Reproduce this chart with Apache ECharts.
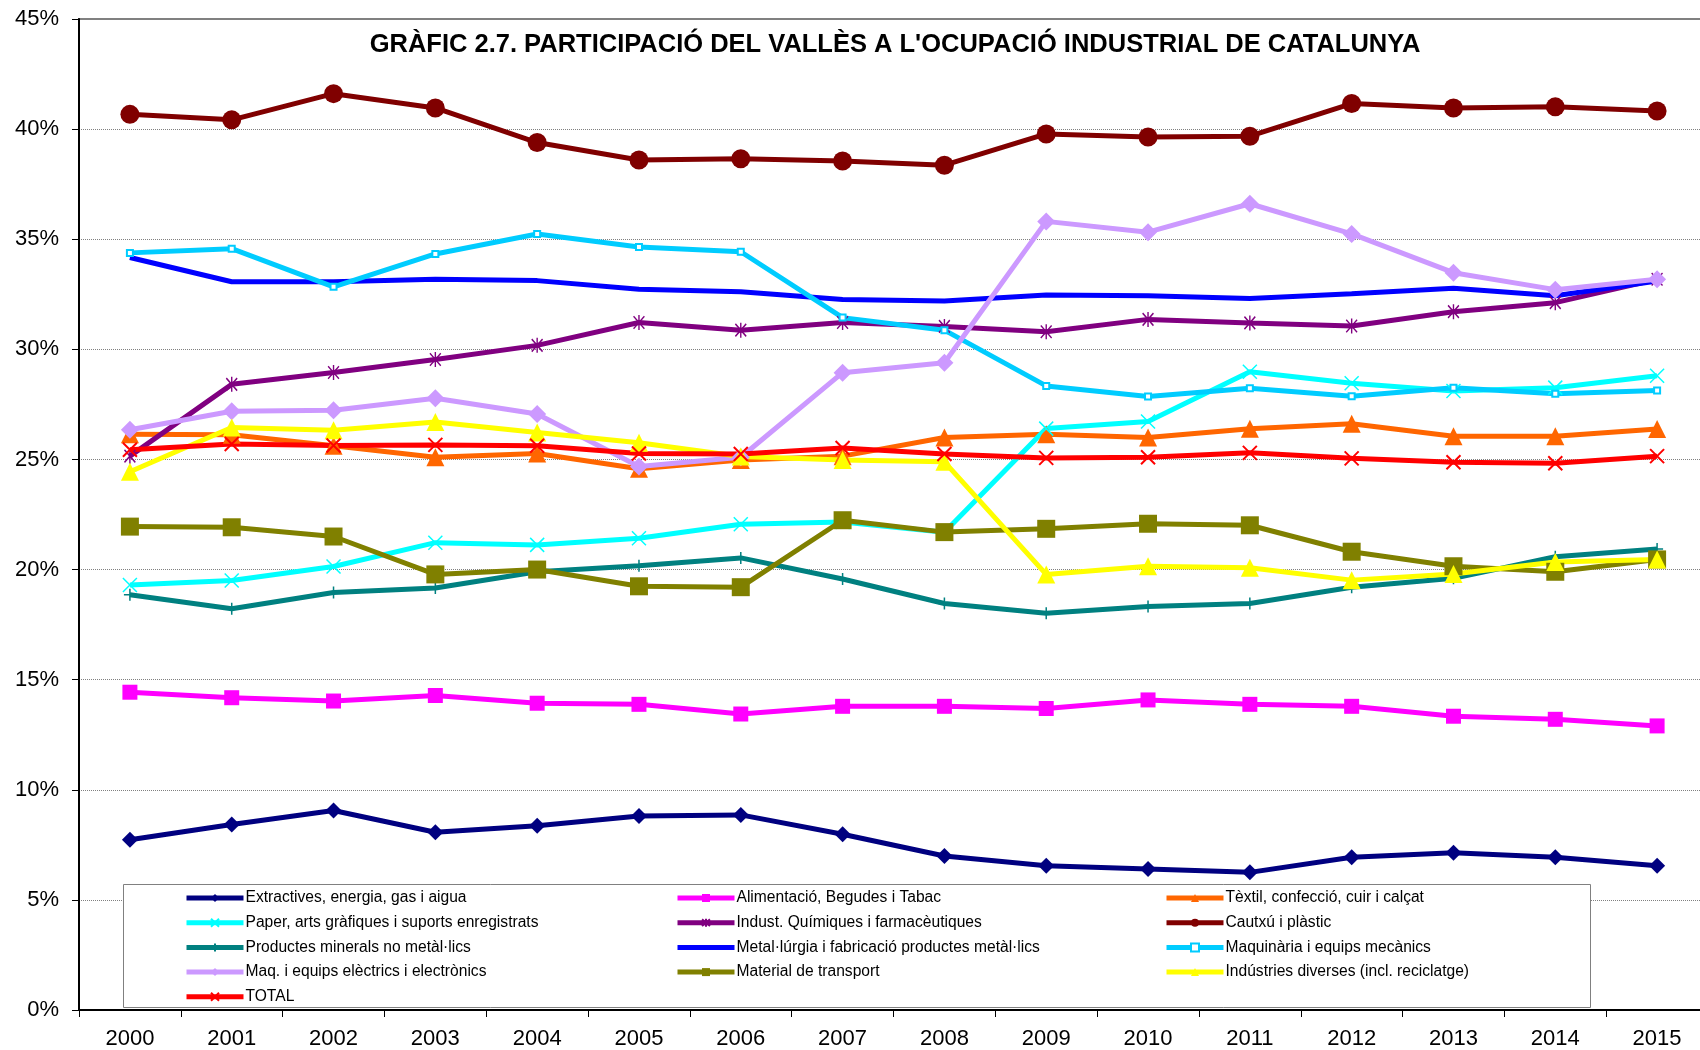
<!DOCTYPE html>
<html>
<head>
<meta charset="utf-8">
<script src="https://cdn.jsdelivr.net/npm/echarts@6/dist/echarts.min.js"></script>
<style>
  html, body { margin: 0; padding: 0; overflow: hidden; background: #fff; }
  #chart { width: 1710px; height: 1050px; }
</style>
</head>
<body>
<div id="chart"></div>
<script>
// years on the x axis
const years = ['2000', '2001', '2002', '2003', '2004', '2005', '2006', '2007',
    '2008', '2009', '2010', '2011', '2012', '2013', '2014', '2015'];

// share of industrial employment (%)
const extractives = [7.73, 8.42, 9.06, 8.07, 8.37, 8.81, 8.86, 7.98, 6.99, 6.55, 6.40, 6.25, 6.94, 7.14, 6.94, 6.55];
const alimentacio = [14.43, 14.18, 14.03, 14.28, 13.93, 13.88, 13.44, 13.79, 13.79, 13.69, 14.08, 13.88, 13.79, 13.34, 13.20, 12.90];
const textil = [26.14, 26.12, 25.62, 25.10, 25.27, 24.58, 24.97, 25.15, 26.0, 26.14, 26.0, 26.39, 26.62, 26.05, 26.05, 26.38];
const paper = [19.30, 19.50, 20.14, 21.22, 21.12, 21.42, 22.06, 22.16, 21.69, 26.40, 26.72, 28.98, 28.46, 28.11, 28.26, 28.80];
const quimiques = [25.15, 28.41, 28.95, 29.54, 30.18, 31.22, 30.87, 31.22, 31.04, 30.80, 31.36, 31.20, 31.06, 31.71, 32.12, 33.18];
const cautxu = [40.67, 40.42, 41.61, 40.96, 39.39, 38.60, 38.65, 38.55, 38.36, 39.78, 39.64, 39.68, 41.16, 40.96, 41.01, 40.82];
const minerals = [18.86, 18.22, 18.96, 19.16, 19.90, 20.17, 20.53, 19.57, 18.46, 18.02, 18.32, 18.46, 19.20, 19.60, 20.58, 20.93];
const metallurgia = [34.17, 33.07, 33.07, 33.18, 33.12, 32.73, 32.62, 32.26, 32.20, 32.47, 32.43, 32.31, 32.52, 32.77, 32.43, 33.10];
const maquinaria = [34.38, 34.57, 32.84, 34.33, 35.24, 34.65, 34.43, 31.44, 30.87, 28.34, 27.86, 28.23, 27.87, 28.26, 27.98, 28.13];
const electrics = [26.35, 27.19, 27.23, 27.78, 27.06, 24.68, 25.10, 28.94, 29.39, 35.81, 35.32, 36.61, 35.24, 33.48, 32.71, 33.18];
const transport = [21.95, 21.92, 21.50, 19.78, 20.0, 19.24, 19.20, 22.24, 21.70, 21.85, 22.08, 22.01, 20.81, 20.15, 19.90, 20.46];
const diverses = [24.44, 26.45, 26.33, 26.70, 26.22, 25.76, 25.13, 24.98, 24.89, 19.78, 20.15, 20.08, 19.52, 19.80, 20.34, 20.46];
const total = [25.44, 25.70, 25.63, 25.66, 25.62, 25.27, 25.25, 25.52, 25.25, 25.07, 25.10, 25.30, 25.05, 24.87, 24.83, 25.15];

const yTicks = { min: 0, max: 45, step: 5 };

const FONT = '"Liberation Sans", Arial, sans-serif';

// marker shapes drawn as strokes
const X_MARK = 'path://M0 0 L10 10 M10 0 L0 10';
const STAR_MARK = 'path://M0 1 L10 11 M10 1 L0 11 M5 0 L5 12';
const PLUS_MARK = 'path://M5 0 L5 10 M0 5 L10 5';
// plain thick bar, for the one series without markers
const BAR_ICON = 'path://M0 0 H57 V5 H0 Z';

const makeSeries = (name, data, color, symbol, size, stroke) => ({
    name,
    type: 'line',
    data,
    symbol,
    symbolSize: size,
    symbolKeepAspect: true,
    showAllSymbol: true,
    lineStyle: { color, width: 5 },
    itemStyle: stroke
        ? { color, borderColor: color, borderWidth: stroke }
        : { color },
    emphasis: { disabled: true },
});

const series = [
    makeSeries('Extractives, energia, gas i aigua', extractives, '#000080', 'diamond', 16),
    makeSeries('Alimentació, Begudes i Tabac', alimentacio, '#FF00FF', 'rect', 15),
    makeSeries('Tèxtil, confecció, cuir i calçat', textil, '#FF6600', 'triangle', 18),
    makeSeries('Paper, arts gràfiques i suports enregistrats', paper, '#00FFFF', X_MARK, 14, 1.5),
    makeSeries('Indust. Químiques i farmacèutiques', quimiques, '#800080', STAR_MARK, [13, 15], 1.5),
    makeSeries('Cautxú i plàstic', cautxu, '#800000', 'circle', 19),
    makeSeries('Productes minerals no metàl·lics', minerals, '#008080', PLUS_MARK, 12, 1.5),
    makeSeries('Metal·lúrgia i fabricació productes metàl·lics', metallurgia, '#0000FF', 'none', 0),
    makeSeries('Maquinària i equips mecànics', maquinaria, '#00CCFF', 'emptyRect', 6, 1.5),
    makeSeries('Maq. i equips elèctrics i electrònics', electrics, '#CC99FF', 'diamond', 18),
    makeSeries('Material de transport', transport, '#808000', 'rect', 18),
    makeSeries('Indústries diverses (incl. reciclatge)', diverses, '#FFFF00', 'triangle', 18),
    makeSeries('TOTAL', total, '#FF0000', X_MARK, 14, 2),
];

const names = series.map(s => s.name);
// legend is laid out row by row in three columns
const legendColumn = (col, left) => ({
    orient: 'vertical',
    left,
    top: 890,
    padding: 0,
    itemWidth: 57,
    itemHeight: 10,
    itemGap: 8.7,
    z: 10,
    selectedMode: false,
    lineStyle: { width: 5 },
    textStyle: { fontFamily: FONT, fontSize: 15.6, color: '#000', lineHeight: 16, padding: [0, 0, 0, -3] },
    data: names
        .filter((n, i) => i % 3 === col)
        .map(n => (n.startsWith('Metal') ? { name: n, icon: BAR_ICON } : n)),
});

const chart = echarts.init(document.getElementById('chart'), null, { renderer: 'canvas' });

const option = {
    animation: false,
    backgroundColor: '#fff',
    grid: {
        left: 79,
        right: 2,
        top: 19,
        bottom: 40,
        show: true,
        borderColor: '#808080',
        borderWidth: 2,
    },
    xAxis: {
        type: 'category',
        data: years,
        boundaryGap: true,
        axisLine: { lineStyle: { color: '#000', width: 2 } },
        axisTick: { show: true, length: 7, lineStyle: { color: '#000', width: 1 } },
        axisLabel: { fontFamily: FONT, fontSize: 22, color: '#000', margin: 18 },
        splitLine: { show: false },
    },
    yAxis: {
        type: 'value',
        min: yTicks.min,
        max: yTicks.max,
        interval: yTicks.step,
        axisLine: { show: true, lineStyle: { color: '#000', width: 2 } },
        axisTick: { show: true, length: 7, lineStyle: { color: '#000', width: 1 } },
        axisLabel: { fontFamily: FONT, fontSize: 22, color: '#000', margin: 20, formatter: '{value}%' },
        splitLine: { lineStyle: { color: '#808080', width: 1, type: [1, 1] } },
    },
    legend: [legendColumn(0, 184), legendColumn(1, 675), legendColumn(2, 1164)],
    graphic: [
        {
            type: 'rect',
            z: 5,
            shape: { x: 123.5, y: 884.5, width: 1467, height: 123 },
            style: { fill: '#fff', stroke: '#808080', lineWidth: 1 },
        },
        {
            type: 'text',
            z: 5,
            x: 895,
            y: 45,
            style: {
                text: "GRÀFIC 2.7. PARTICIPACIÓ DEL VALLÈS A L'OCUPACIÓ INDUSTRIAL DE CATALUNYA",
                fontFamily: FONT,
                fontSize: 25.5,
                fontWeight: 'bold',
                fill: '#000',
                textAlign: 'center',
                textVerticalAlign: 'middle',
            },
        },
    ],
    series,
};

chart.setOption(option);
</script>
</body>
</html>
